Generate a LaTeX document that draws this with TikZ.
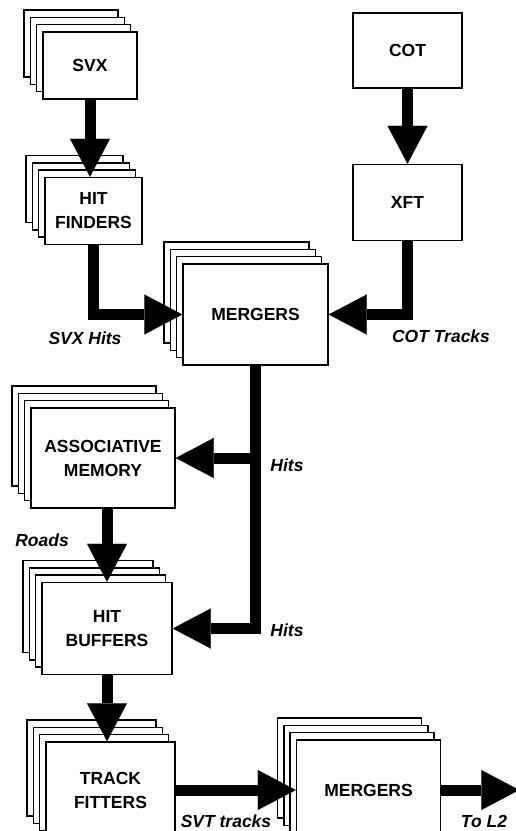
\documentclass[tikz,border=0pt]{standalone}
\usepackage{fontspec}
\setmainfont{Liberation Sans}
\usetikzlibrary{positioning,arrows.meta,shadows,calc}
\tikzstyle{sbox}=[rectangle, draw=black, fill=white, line width=1.5pt, inner sep=2pt, text centered, align=center, font=\bfseries\fontsize{17.5}{24}\selectfont]
\tikzstyle{stackbox}=[sbox, copy shadow={shadow xshift=-19pt, shadow yshift=22pt, draw=black, line width=1.5pt}, copy shadow={shadow xshift=-12.6pt, shadow yshift=14.6pt, draw=black, line width=1.5pt}, copy shadow={shadow xshift=-6.3pt, shadow yshift=7.3pt, draw=black, line width=1.5pt}]
\tikzstyle{fatline}=[line width=11pt, -{Triangle[length=38pt, width=40pt, line width=0.1pt]}]
\tikzstyle{lbl}=[inner sep=0pt, font=\bfseries\itshape\fontsize{17.5}{20}\selectfont]
\begin{document}
\begin{tikzpicture}[x=1pt, y=1pt, node distance=0mm]
\useasboundingbox (0,0) rectangle (516,-831);
\node (SVX) [stackbox, minimum width=94pt, minimum height=67pt] at (90,-65.5) {SVX};
\node (HF) [stackbox, minimum width=97pt, minimum height=67pt, below=77pt of SVX, xshift=3.5pt] {HIT\\FINDERS};
 \draw[fatline] (SVX.south) -- (SVX.south |- HF.north);
\node (COT) [sbox, minimum width=109pt, minimum height=75pt] at (407.5,-50.5) {COT};
\node (XFT) [sbox, minimum width=109pt, minimum height=76pt, below=75pt of COT] {XFT};
 \draw[fatline] (COT) -- (XFT);
\node (MRG) [stackbox, minimum width=145pt, minimum height=101pt] at (255.5,-314.5) {MERGERS};
 \draw[fatline] (HF.south) |- (MRG.west);
 \draw[fatline] (XFT.south) |- (MRG.east);
\node (SVXH) [lbl] at (85,-338) {SVX Hits};
\node (COTT) [lbl] at (441,-336) {COT Tracks};
\node (AM) [stackbox, minimum width=144pt, minimum height=100pt] at (103,-458) {ASSOCIATIVE\\MEMORY};
\node (HB) [stackbox, minimum width=130pt, minimum height=92pt, below=73pt of AM, xshift=4pt] {HIT\\BUFFERS};
 \draw[fatline] (MRG.south) |- (AM.east);
 \draw[fatline] (MRG.south) |- (HB.east);
 \draw[fatline] (HB.north |- AM.south) -- (HB.north);
\node (HITSA) [lbl] at (287,-465) {Hits};
\node (HITSB) [lbl] at (287,-630) {Hits};
\node (ROADS) [lbl] at (42,-540) {Roads};
\node (TF) [stackbox, minimum width=129pt, minimum height=96pt, below=66pt of HB, xshift=3.5pt] {TRACK\\FITTERS};
 \draw[fatline] (HB.south) -- (HB.south |- TF.north);
\node (MRGB) [stackbox, minimum width=144pt, minimum height=100pt, right=120pt of TF] {MERGERS};
 \draw[fatline] (TF) -- (MRGB);
\coordinate (L2) at ($(MRGB.east)+(78,0)$);
 \draw[fatline] (MRGB) -- (L2);
\node (SVTT) [lbl] at (226,-821) {SVT tracks};
\node (TOL2) [lbl] at (484,-821) {To L2};
\end{tikzpicture}
\end{document}
